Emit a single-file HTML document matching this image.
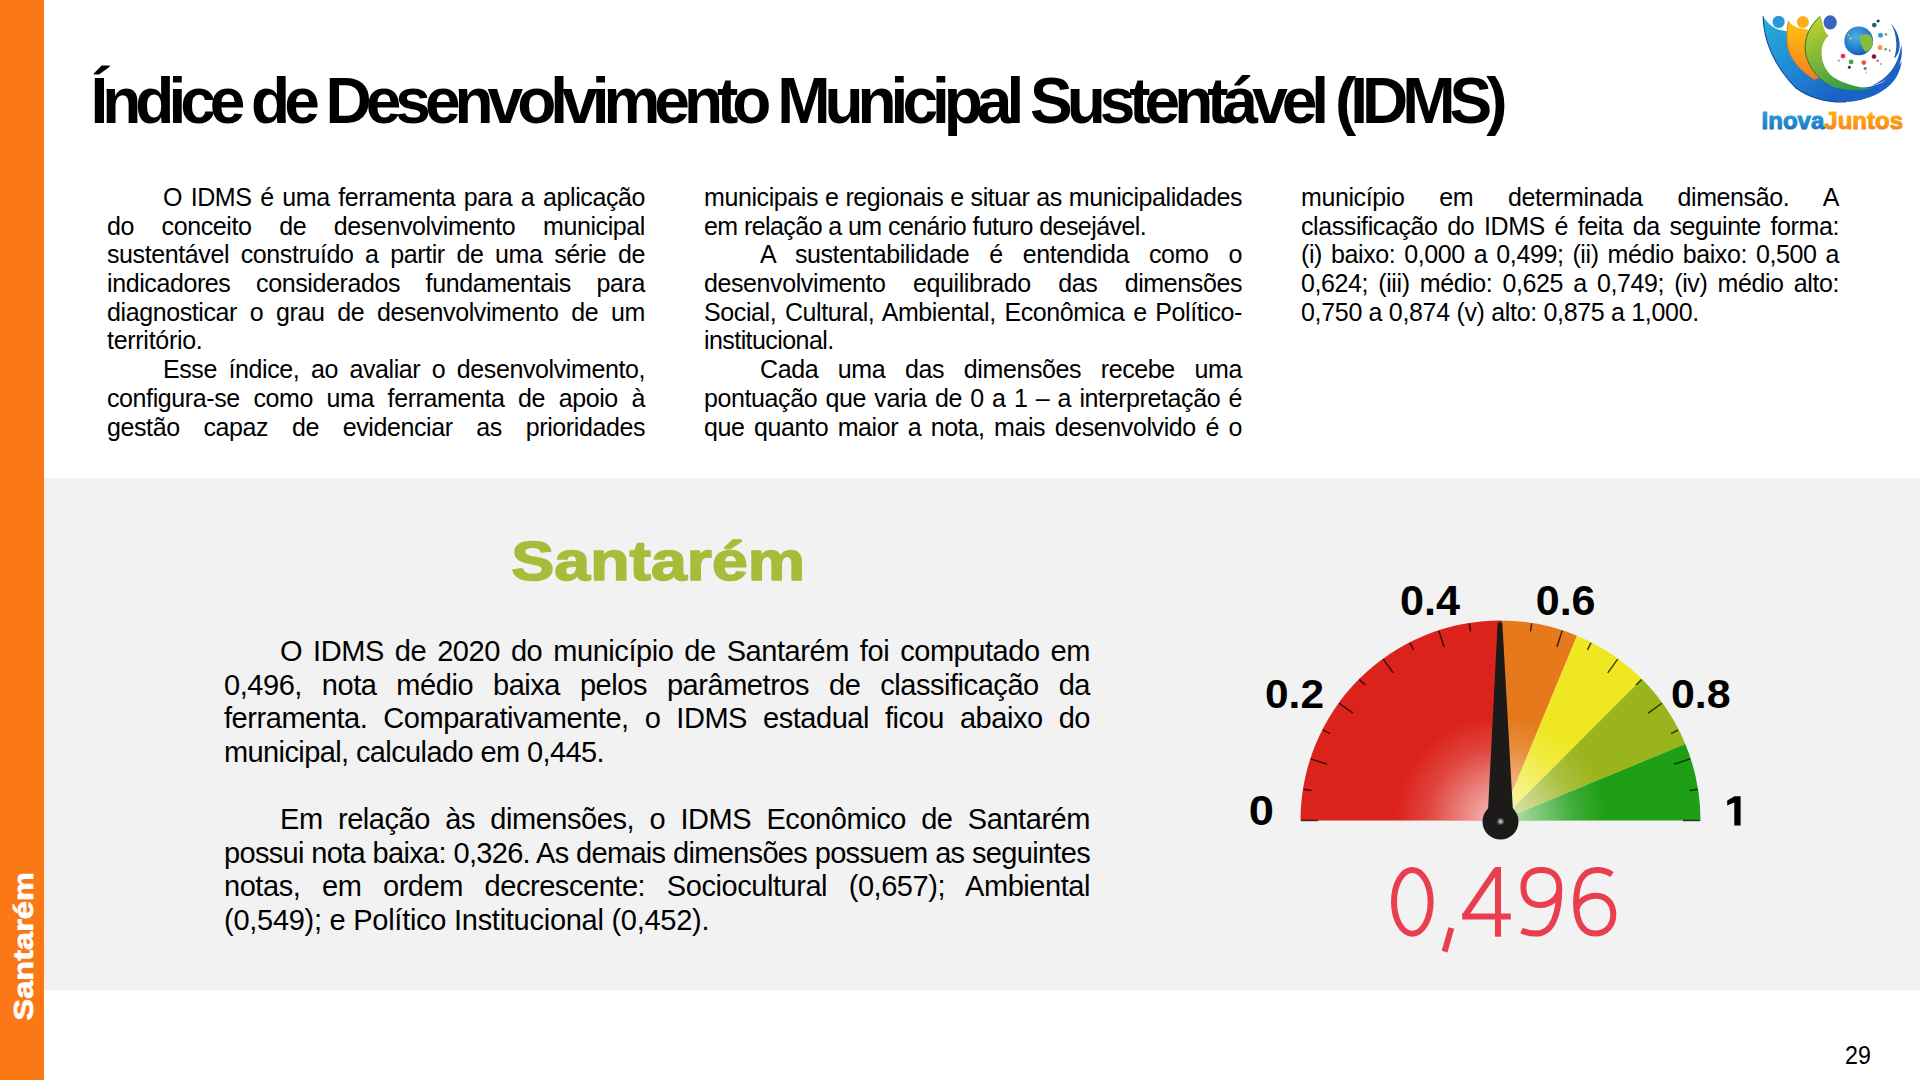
<!DOCTYPE html>
<html lang="pt">
<head>
<meta charset="utf-8">
<title>IDMS - Santarém</title>
<style>
*{margin:0;padding:0;box-sizing:border-box}
html,body{width:1920px;height:1080px;overflow:hidden;background:#fff}
body{position:relative;font-family:"Liberation Sans",sans-serif;color:#000}
.side{position:absolute;left:0;top:0;width:44px;height:1080px;background:#FB7817}
.gray{position:absolute;left:44px;top:478px;width:1876px;height:512px;background:#F2F2F2}
.strip{position:absolute;left:44px;top:478px;width:3px;height:512px;background:#F8EEE6}
.col{position:absolute;width:538px;font-size:25px;line-height:28.7px}
.col div,.sec div{white-space:nowrap;text-align:justify;text-align-last:justify;height:28.7px}
.col div.l,.sec div.l{text-align-last:left}
.col div.i,.sec div.i{padding-left:56px}
.sec{position:absolute;left:224px;width:866px;font-size:29px;line-height:33.6px}
.sec div{height:33.6px}
.pg{position:absolute;left:1845px;top:1040px;font-size:24px;line-height:28px}
svg.full{position:absolute;left:0;top:0;width:1920px;height:1080px}
</style>
</head>
<body>
<div class="side"></div>
<div class="gray"></div>
<div class="strip"></div>

<div class="col" id="c1" style="left:107px;top:183px">
<div id="La0" class="i" style="letter-spacing:-0.400px">O IDMS é uma ferramenta para a aplicação</div>
<div id="La1" style="letter-spacing:-0.400px">do conceito de desenvolvimento municipal</div>
<div id="La2" style="letter-spacing:-0.400px">sustentável construído a partir de uma série de</div>
<div id="La3" style="letter-spacing:-0.400px">indicadores considerados fundamentais para</div>
<div id="La4" style="letter-spacing:-0.400px">diagnosticar o grau de desenvolvimento de um</div>
<div id="La5" class="l" style="letter-spacing:-0.284px">território.</div>
<div id="La6" class="i" style="letter-spacing:-0.400px">Esse índice, ao avaliar o desenvolvimento,</div>
<div id="La7" style="letter-spacing:-0.400px">configura-se como uma ferramenta de apoio à</div>
<div id="La8" style="letter-spacing:-0.400px">gestão capaz de evidenciar as prioridades</div>
</div>
<div class="col" id="c2" style="left:704px;top:183px">
<div id="Lb0" style="letter-spacing:-0.400px">municipais e regionais e situar as municipalidades</div>
<div id="Lb1" class="l" style="letter-spacing:-0.571px">em relação a um cenário futuro desejável.</div>
<div id="Lb2" class="i" style="letter-spacing:-0.400px">A sustentabilidade é entendida como o</div>
<div id="Lb3" style="letter-spacing:-0.400px">desenvolvimento equilibrado das dimensões</div>
<div id="Lb4" style="letter-spacing:-0.400px">Social, Cultural, Ambiental, Econômica e Político-</div>
<div id="Lb5" class="l" style="letter-spacing:-0.568px">institucional.</div>
<div id="Lb6" class="i" style="letter-spacing:-0.400px">Cada uma das dimensões recebe uma</div>
<div id="Lb7" style="letter-spacing:-0.400px">pontuação que varia de 0 a 1 – a interpretação é</div>
<div id="Lb8" style="letter-spacing:-0.400px">que quanto maior a nota, mais desenvolvido é o</div>
</div>
<div class="col" id="c3" style="left:1301px;top:183px">
<div id="Lc0" style="letter-spacing:-0.400px">município em determinada dimensão. A</div>
<div id="Lc1" style="letter-spacing:-0.400px">classificação do IDMS é feita da seguinte forma:</div>
<div id="Lc2" style="letter-spacing:-0.400px">(i) baixo: 0,000 a 0,499; (ii) médio baixo: 0,500 a</div>
<div id="Lc3" style="letter-spacing:-0.400px">0,624; (iii) médio: 0,625 a 0,749; (iv) médio alto:</div>
<div id="Lc4" class="l" style="letter-spacing:-0.320px">0,750 a 0,874 (v) alto: 0,875 a 1,000.</div>
</div>
<div class="sec" id="s1" style="top:635px">
<div id="Ls0" class="i" style="letter-spacing:-0.450px">O IDMS de 2020 do município de Santarém foi computado em</div>
<div id="Ls1" style="letter-spacing:-0.450px">0,496, nota médio baixa pelos parâmetros de classificação da</div>
<div id="Ls2" style="letter-spacing:-0.450px">ferramenta. Comparativamente, o IDMS estadual ficou abaixo do</div>
<div id="Ls3" class="l" style="letter-spacing:-0.609px">municipal, calculado em 0,445.</div>
<div id="Ls4" class="l">&nbsp;</div>
<div id="Ls5" class="i" style="letter-spacing:-0.450px">Em relação às dimensões, o IDMS Econômico de Santarém</div>
<div id="Ls6" style="letter-spacing:-0.685px">possui nota baixa: 0,326. As demais dimensões possuem as seguintes</div>
<div id="Ls7" style="letter-spacing:-0.450px">notas, em ordem decrescente: Sociocultural (0,657); Ambiental</div>
<div id="Ls8" class="l" style="letter-spacing:-0.268px">(0,549); e Político Institucional (0,452).</div>
</div>

<svg class="full" viewBox="0 0 1920 1080">
<defs>
<radialGradient id="glow" cx="1500.5" cy="820.5" r="105" gradientUnits="userSpaceOnUse">
<stop offset="0" stop-color="#fff" stop-opacity="0.75"/>
<stop offset="0.35" stop-color="#fff" stop-opacity="0.45"/>
<stop offset="0.7" stop-color="#fff" stop-opacity="0.15"/>
<stop offset="1" stop-color="#fff" stop-opacity="0"/>
</radialGradient>
<radialGradient id="hubhl" cx="0.5" cy="0.5" r="0.5">
<stop offset="0" stop-color="#ddd"/>
<stop offset="1" stop-color="#1c1a1a"/>
</radialGradient>
<linearGradient id="gBlue" x1="0" y1="0" x2="0" y2="1">
<stop offset="0" stop-color="#2AB0DE"/><stop offset="1" stop-color="#1B6CC0"/>
</linearGradient>
<linearGradient id="gOr" x1="0" y1="0" x2="0" y2="1">
<stop offset="0" stop-color="#FFC20E"/><stop offset="1" stop-color="#F47B20"/>
</linearGradient>
</defs>
<!-- sidebar vertical label -->
<text transform="translate(33.30,1020.46) rotate(-90) scale(1.1632,1.0150)" font-family="Liberation Sans" font-weight="bold" font-size="28" fill="#fff" stroke="#fff" stroke-width="0.7" stroke-linejoin="round">Santarém</text>
<!-- title -->
<text x="90.45" y="123.0" font-family="Liberation Sans" font-weight="bold" font-size="64" fill="#000" letter-spacing="-6.008">Índice de Desenvolvimento Municipal Sustentável (IDMS)</text>
<!-- city heading -->
<text transform="translate(511.35,579.60) scale(1.1508,0.9964)" font-family="Liberation Sans" font-weight="bold" font-size="56" fill="#A7BD3A" stroke="#A7BD3A" stroke-width="1.6" stroke-linejoin="round">Santarém</text>

<!-- gauge -->
<g id="gauge">
<path d="M1500.5,820.5 L1300.50,820.50 A200,200 0 0 1 1500.50,620.50 Z" fill="#DB231B"/>
<path d="M1500.5,820.5 L1500.50,620.50 A200,200 0 0 1 1577.04,635.72 Z" fill="#E5791C"/>
<path d="M1500.5,820.5 L1577.04,635.72 A200,200 0 0 1 1641.92,679.08 Z" fill="#EEE721"/>
<path d="M1500.5,820.5 L1641.92,679.08 A200,200 0 0 1 1685.28,743.96 Z" fill="#9AB51C"/>
<path d="M1500.5,820.5 L1685.28,743.96 A200,200 0 0 1 1700.50,820.50 Z" fill="#1F9F16"/>
<path d="M1300.5,820.5 A200,200 0 0 1 1700.5,820.5 Z" fill="url(#glow)"/>
<line x1="1301.00" y1="820.50" x2="1318.00" y2="820.50" stroke="#000" stroke-opacity="0.72" stroke-width="1.5"/>
<line x1="1303.46" y1="789.29" x2="1311.36" y2="790.54" stroke="#000" stroke-opacity="0.72" stroke-width="1.5"/>
<line x1="1310.76" y1="758.85" x2="1326.93" y2="764.10" stroke="#000" stroke-opacity="0.72" stroke-width="1.5"/>
<line x1="1322.74" y1="729.93" x2="1329.87" y2="733.56" stroke="#000" stroke-opacity="0.72" stroke-width="1.5"/>
<line x1="1339.10" y1="703.24" x2="1352.85" y2="713.23" stroke="#000" stroke-opacity="0.72" stroke-width="1.5"/>
<line x1="1359.43" y1="679.43" x2="1365.09" y2="685.09" stroke="#000" stroke-opacity="0.72" stroke-width="1.5"/>
<line x1="1383.24" y1="659.10" x2="1393.23" y2="672.85" stroke="#000" stroke-opacity="0.72" stroke-width="1.5"/>
<line x1="1409.93" y1="642.74" x2="1413.56" y2="649.87" stroke="#000" stroke-opacity="0.72" stroke-width="1.5"/>
<line x1="1438.85" y1="630.76" x2="1444.10" y2="646.93" stroke="#000" stroke-opacity="0.72" stroke-width="1.5"/>
<line x1="1469.29" y1="623.46" x2="1470.54" y2="631.36" stroke="#000" stroke-opacity="0.72" stroke-width="1.5"/>
<line x1="1500.50" y1="621.00" x2="1500.50" y2="638.00" stroke="#000" stroke-opacity="0.72" stroke-width="1.5"/>
<line x1="1531.71" y1="623.46" x2="1530.46" y2="631.36" stroke="#000" stroke-opacity="0.72" stroke-width="1.5"/>
<line x1="1562.15" y1="630.76" x2="1556.90" y2="646.93" stroke="#000" stroke-opacity="0.72" stroke-width="1.5"/>
<line x1="1591.07" y1="642.74" x2="1587.44" y2="649.87" stroke="#000" stroke-opacity="0.72" stroke-width="1.5"/>
<line x1="1617.76" y1="659.10" x2="1607.77" y2="672.85" stroke="#000" stroke-opacity="0.72" stroke-width="1.5"/>
<line x1="1641.57" y1="679.43" x2="1635.91" y2="685.09" stroke="#000" stroke-opacity="0.72" stroke-width="1.5"/>
<line x1="1661.90" y1="703.24" x2="1648.15" y2="713.23" stroke="#000" stroke-opacity="0.72" stroke-width="1.5"/>
<line x1="1678.26" y1="729.93" x2="1671.13" y2="733.56" stroke="#000" stroke-opacity="0.72" stroke-width="1.5"/>
<line x1="1690.24" y1="758.85" x2="1674.07" y2="764.10" stroke="#000" stroke-opacity="0.72" stroke-width="1.5"/>
<line x1="1697.54" y1="789.29" x2="1689.64" y2="790.54" stroke="#000" stroke-opacity="0.72" stroke-width="1.5"/>
<line x1="1700.00" y1="820.50" x2="1683.00" y2="820.50" stroke="#000" stroke-opacity="0.72" stroke-width="1.5"/>
<g transform="rotate(-0.150 1500.5 820.5)"><path d="M1487.5,820.5 L1498.2,622.5 L1502.8,622.5 L1513.5,820.5 Z" fill="#1d1a1a"/></g>
<circle cx="1500.5" cy="821.5" r="18" fill="#1d1a1a"/>
<circle cx="1500.5" cy="821.5" r="4" fill="url(#hubhl)"/>
<text transform="translate(1248.79,825.00) scale(1.1053,1.0179)" font-family="Liberation Sans" font-weight="bold" font-size="41" fill="#000" >0</text>
<text transform="translate(1265.03,707.50) scale(1.0340,1.0107)" font-family="Liberation Sans" font-weight="bold" font-size="41" fill="#000" >0.2</text>
<text transform="translate(1399.89,615.00) scale(1.0545,1.0250)" font-family="Liberation Sans" font-weight="bold" font-size="41" fill="#000" >0.4</text>
<text transform="translate(1535.70,615.00) scale(1.0500,1.0250)" font-family="Liberation Sans" font-weight="bold" font-size="41" fill="#000" >0.6</text>
<text transform="translate(1671.01,707.50) scale(1.0463,1.0107)" font-family="Liberation Sans" font-weight="bold" font-size="41" fill="#000" >0.8</text>
<path d="M1727.2,800.6 L1734.6,796.2 H1740.6 V825.5 H1734.3 V802.6 L1727.2,805.6 Z" fill="#000"/>
<g stroke="#E83E4E" stroke-width="6.0" fill="none" stroke-linecap="butt" stroke-linejoin="round"><ellipse cx="1412.3" cy="901.85" rx="18.30" ry="31.85"/><path d="M1451.3,928 L1444.6,951.6"/><path d="M1498,936.7 V867"/><path d="M1496.5,869.5 L1464.5,916.5"/><path d="M1462.2,916.5 H1510.8"/><path d="M1559.3,888 C1559.3,876 1552,870.0 1541.3,870.0 C1530,870.0 1523.4,876 1523.4,887.5 C1523.4,899 1530,905 1540.5,905 C1550,905 1559.3,898 1559.3,888 C1559.3,915 1552,933.6 1536,933.6 C1530,933.6 1526,932.5 1521.5,930.5"/><path d="M1612,874.5 C1607.5,871.5 1603,870.0 1597,870.0 C1582,870.0 1576.1,884 1576.1,903 C1576.1,922 1583,933.6 1595,933.6 C1606.5,933.6 1613.3,925 1613.3,914.5 C1613.3,903.5 1606.5,895.7 1596,895.7 C1586,895.7 1577.5,902 1576.5,910"/></g>
</g>

<!-- logo -->
<g id="logo">
<defs>
<linearGradient id="lgBlue" x1="1765" y1="20" x2="1830" y2="100" gradientUnits="userSpaceOnUse"><stop offset="0" stop-color="#27AEDD"/><stop offset="0.6" stop-color="#1E84D4"/><stop offset="1" stop-color="#1A62C6"/></linearGradient>
<linearGradient id="lgOr" x1="0" y1="0" x2="0" y2="1"><stop offset="0" stop-color="#FFC414"/><stop offset="1" stop-color="#F57D1E"/></linearGradient>
<linearGradient id="lgGr" x1="1815" y1="18" x2="1850" y2="90" gradientUnits="userSpaceOnUse"><stop offset="0" stop-color="#BDD22A"/><stop offset="0.5" stop-color="#7DB53A"/><stop offset="1" stop-color="#2E9A45"/></linearGradient>
<radialGradient id="lgGlobe" cx="0.4" cy="0.35" r="0.7"><stop offset="0" stop-color="#4DB0EC"/><stop offset="0.7" stop-color="#2178CC"/><stop offset="1" stop-color="#1553A8"/></radialGradient>
</defs>
<path d="M1763.1,16.3 C1763.5,40 1774,66 1796,88 C1811,99 1828,102.5 1846,102 C1868,101 1888,91 1896.5,77 C1899.5,71 1901.3,66 1901.6,61.5 C1897,69 1890.5,76.5 1883,82 C1872,88 1858,89 1845,87.5 C1830,85 1817,78 1808,68 C1797,56 1791,44 1789,32 C1786,31 1783,30.5 1780,30 C1774,28.8 1767,23 1763.1,16.3 Z" fill="url(#lgBlue)"/>
<path d="M1763.1,16.3 C1763.5,40 1774,66 1796,88 C1811,99 1828,102.5 1846,102" fill="none" stroke="#174A9E" stroke-width="1.1"/>
<path d="M1788.6,21 C1792,25.5 1797,28.2 1802.5,28.5 C1805,28.6 1807,29.2 1809,30.5 C1810,45 1815,62 1825,76 L1814.5,79.5 C1800,71 1789,58 1787.3,44 C1786.5,35 1787,27 1788.6,21 Z" fill="url(#lgOr)"/>
<path d="M1788.6,21 C1787,27 1786.5,35 1787.3,44 C1789,58 1800,71 1814.5,79.5" fill="none" stroke="#E07A10" stroke-width="0.9"/>
<path d="M1820.3,16.3 C1810,25 1804.6,37 1805.2,49 C1806,63 1815,77 1829,85 C1842,91 1858,91.5 1872,88.6 C1857,87.5 1843,83.5 1833,77 C1825,70.5 1821.2,61 1821.6,51 C1821.9,45 1824,40 1828.4,35.8 C1825.5,33 1823.5,28.5 1822.6,24 C1822.1,21 1821.4,18.5 1820.3,16.3 Z" fill="url(#lgGr)"/>
<path d="M1820.3,16.3 C1810,25 1804.6,37 1805.2,49 C1806,63 1815,77 1829,85" fill="none" stroke="#1F7A2E" stroke-width="1"/>
<circle cx="1778.6" cy="21.9" r="6.1" fill="#2A98DC"/>
<circle cx="1802.9" cy="21.9" r="6.0" fill="#FBAE1A"/>
<ellipse cx="1830.2" cy="22.4" rx="6.6" ry="7.1" fill="#3A63C2"/>
<path d="M1891.1,23.7 C1897,30 1900.2,39 1899.6,47 C1899.2,52 1897.2,56 1893.9,58.9 C1895.6,53.5 1896.6,48.5 1896.3,43 C1895.9,35.5 1894.2,29 1891.1,23.7 Z" fill="#1E5FC0"/>
<path d="M1901.4,45 C1903.2,56 1900,66.5 1894.5,72.5 C1888,79.5 1880,83.8 1871.7,85.8 C1879.5,82 1886.5,77 1891.5,70.5 C1896.5,63.5 1899.8,55 1901.4,45 Z" fill="#1E5FC0"/>
<circle cx="1858.7" cy="40.9" r="14.4" fill="url(#lgGlobe)"/>
<path d="M1859.6,35.8 C1863,34 1867.5,33.8 1870.2,35.2 C1872.5,37.5 1873.2,41 1872.6,44.5 C1871.8,48 1869,51 1865.4,51.8 C1863.6,49.5 1862.2,46.8 1861.5,45 C1860.2,42.5 1859.3,39.5 1859.6,35.8 Z" fill="#86BC3C"/>
<circle cx="1850.5" cy="38.5" r="1.4" fill="#A8D040"/><circle cx="1848.5" cy="35" r="1" fill="#A8D040"/>
<circle cx="1878.1" cy="21" r="1.5" fill="#2A2A40"/>
<circle cx="1874.3" cy="25.1" r="2.3" fill="#1F5E70"/>
<circle cx="1880.5" cy="35.3" r="2.5" fill="#33A0D8"/>
<circle cx="1886" cy="34.4" r="1.3" fill="#8AA050"/>
<circle cx="1880" cy="47.4" r="2.5" fill="#EE9A48"/>
<circle cx="1885.6" cy="49.2" r="1.3" fill="#8A9050"/>
<circle cx="1889.7" cy="50.4" r="1.0" fill="#7A8040"/>
<circle cx="1874" cy="56.6" r="2.3" fill="#8A1A3A"/>
<circle cx="1877.7" cy="60.8" r="1.3" fill="#B07080"/>
<circle cx="1880.9" cy="64" r="1.1" fill="#C89090"/>
<circle cx="1843" cy="56.1" r="2.4" fill="#D23A55"/>
<circle cx="1838.8" cy="60.6" r="1.3" fill="#D8B090"/>
<circle cx="1851.1" cy="61.9" r="2.4" fill="#4AA050"/>
<circle cx="1849.4" cy="67.3" r="1.5" fill="#5A2030"/>
<circle cx="1863.8" cy="62.6" r="2.4" fill="#E55A3A"/>
<circle cx="1865.2" cy="68.4" r="1.6" fill="#3AA888"/>
<circle cx="1866.1" cy="72.4" r="1.0" fill="#D8C0C0"/>
<text transform="translate(1761.58,128.66) scale(0.9237,0.9400)" font-family="Liberation Sans" font-weight="bold" font-size="26" fill="#1E88CF" stroke-width="1.1" stroke-linejoin="round"><tspan fill="url(#gBlue)" stroke="url(#gBlue)">Inova</tspan><tspan fill="url(#gOr)" stroke="url(#gOr)">Juntos</tspan></text>
</g>
<text transform="translate(1845.03,1064.20) scale(0.9680,1.0412)" font-family="Liberation Sans" font-weight="normal" font-size="24" fill="#000" >29</text>
</svg>
</body>
</html>
